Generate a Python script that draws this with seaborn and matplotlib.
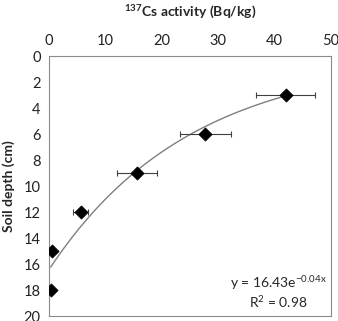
import numpy as np
import pandas as pd
import matplotlib.pyplot as plt
import seaborn as sns

# data
activity = [42.0, 27.7, 15.6, 5.6, 0.5, 0.3]      # Bq/kg
depth = [3, 6, 9, 12, 15, 18]                      # cm
activity_err = [5.2, 4.5, 3.6, 1.3, 0, 0]
x_ticks = [0, 10, 20, 30, 40, 50]
y_ticks = [0, 2, 4, 6, 8, 10, 12, 14, 16, 18, 20]
fit_a = 16.43   # trendline y = a * exp(b x)
fit_b = -0.04

sns.set_style('white')
plt.rcParams['font.family'] = ['Lato', 'DejaVu Sans']
plt.rcParams['mathtext.default'] = 'regular'

data = pd.DataFrame({'activity': activity, 'depth': depth})
fit_x = np.linspace(min(activity), max(activity), 100)
fit = pd.DataFrame({'x': fit_x, 'y': fit_a * np.exp(fit_b * fit_x)})

fig = plt.figure(figsize=(3.38, 3.21), dpi=100)
ax = fig.add_axes([0.145, 0.0155, 0.834, 0.81])

sns.lineplot(data=fit, x='x', y='y', ax=ax, color='#7f7f7f', lw=1, sort=False)
ax.errorbar(activity, depth, xerr=activity_err, fmt='none', ecolor='#404040',
            elinewidth=0.8, capsize=2.5, capthick=0.8)
sns.scatterplot(data=data, x='activity', y='depth', ax=ax, marker='D', s=45,
                color='black', edgecolor='black', zorder=5)

ax.set_xlim(0, 50)
ax.set_ylim(20, 0)
ax.set_xticks(x_ticks)
ax.set_yticks(y_ticks)
ax.xaxis.tick_top()
ax.xaxis.set_label_position('top')
ax.tick_params(length=0, labelsize=10.5, colors='#222222', pad=6)
ax.set_xlabel('$^{137}$Cs activity (Bq/kg)', fontsize=10, fontweight='bold', labelpad=12)
ax.set_ylabel('Soil depth (cm)', fontsize=10, fontweight='bold', labelpad=6)
for s in ax.spines.values():
    s.set_color('#8a8a8a')
    s.set_linewidth(0.8)

ax.text(0.812, 0.127, 'y = 16.43e$^{-0.04x}$', transform=ax.transAxes,
        ha='center', va='center', fontsize=10)
ax.text(0.812, 0.054, 'R$^{2}$ = 0.98', transform=ax.transAxes,
        ha='center', va='center', fontsize=10)

plt.savefig('out.png', dpi=100)
